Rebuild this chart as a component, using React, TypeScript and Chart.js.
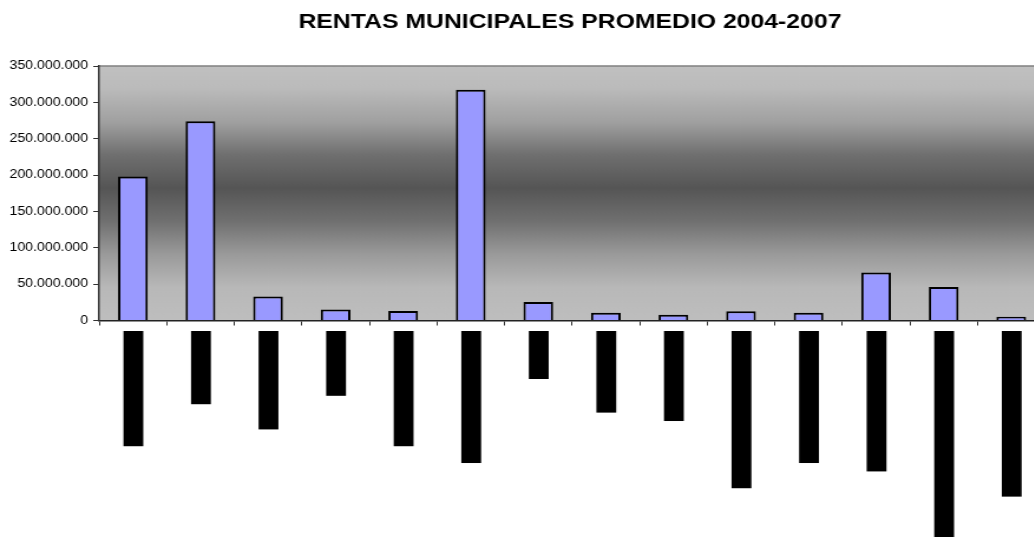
import React, { useEffect, useRef } from "react";
import { Chart, registerables } from "chart.js";

Chart.register(...registerables);

const chartTitle = "RENTAS MUNICIPALES PROMEDIO 2004-2007";

// category labels (illegible in the reference: drawn as solid black labels)
const municipios = [
  "VILLAVICENCIO",
  "RESTREPO",
  "LA MACARENA",
  "CUMARAL",
  "PUERTO GAITAN",
  "SAN JOSE DE URE",
  "URIBE",
  "MAPIRIPAN",
  "SAN MARTIN",
  "SANTA ROSA DEL SUR",
  "HATILLO DE LOBA",
  "PUERTO CONCORDIA",
  "SAN CARLOS DE GUAROA-META",
  "SAN JUAN NEPOMUCENO",
];

const rentasPromedio = [
  198000000, 274000000, 33000000, 15000000, 13000000, 317500000, 25500000,
  10500000, 8000000, 12800000, 10600000, 66000000, 46000000, 5000000,
];

const yMin = 0;
const yMax = 350000000;
const yStep = 50000000;

const STRETCH = 1.18;

function fmt(v: number): string {
  return Math.round(v)
    .toString()
    .replace(/\B(?=(\d{3})+(?!\d))/g, ".");
}

const plotBg = {
  id: "plotBg",
  beforeDraw(chart: any) {
    const { ctx, chartArea: a } = chart;
    if (!a) return;
    const g = ctx.createLinearGradient(0, a.top, 0, a.bottom);
    g.addColorStop(0, "#c0c0c0");
    g.addColorStop(0.087, "#bbbbbb");
    g.addColorStop(0.22, "#a0a0a0");
    g.addColorStop(0.35, "#6f6f6f");
    g.addColorStop(0.48, "#555555");
    g.addColorStop(0.61, "#707070");
    g.addColorStop(0.74, "#9a9a9a");
    g.addColorStop(0.87, "#b8b8b8");
    g.addColorStop(1, "#bebebe");
    ctx.save();
    ctx.fillStyle = g;
    ctx.fillRect(a.left, a.top, a.right - a.left, a.bottom - a.top);
    ctx.strokeStyle = "#808080";
    ctx.lineWidth = 1.5;
    ctx.beginPath();
    ctx.moveTo(a.left, a.top);
    ctx.lineTo(a.right, a.top);
    ctx.lineTo(a.right, a.bottom);
    ctx.stroke();
    ctx.restore();
  },
};

export default function App() {
  const ref = useRef<HTMLCanvasElement | null>(null);

  useEffect(() => {
    if (!ref.current) return;
    const chart = new Chart(ref.current, {
      type: "bar",
      data: {
        labels: municipios,
        datasets: [
          {
            data: rentasPromedio,
            backgroundColor: "#9999ff",
            borderColor: "#000000",
            borderWidth: 2,
            barPercentage: 0.44,
            categoryPercentage: 1,
            yAxisID: "y",
          },
        ],
      },
      options: {
        animation: false,
        responsive: true,
        maintainAspectRatio: false,
        layout: { padding: { left: 0, right: 0, top: 0, bottom: 0 } },
        plugins: {
          legend: { display: false },
          tooltip: { enabled: false },
          title: {
            display: true,
            text: chartTitle,
            color: "#000000",
            font: { family: "Arial, 'Liberation Sans', sans-serif", size: 21, weight: "bold", lineHeight: 1.2 },
            padding: { top: 10, bottom: 30.8 },
          },
        },
        scales: {
          x: {
            offset: true,
            grid: {
              offset: true,
              display: true,
              drawOnChartArea: false,
              drawTicks: true,
              tickLength: 5,
              color: "#333333",
            },
            border: { display: true, color: "#222222", width: 1.5 },
            ticks: {
              autoSkip: false,
              minRotation: 90,
              maxRotation: 90,
              padding: 8.5,
              labelOffset: -8,
              color: "#000000",
              font: { family: "'Liberation Mono', 'DejaVu Sans Mono', monospace", size: 14, lineHeight: 1.2 },
              showLabelBackdrop: true,
              backdropColor: "#000000",
              backdropPadding: { top: 0, bottom: 0, left: 3, right: 3 },
            },
            afterFit: (s: any) => {
              s.height = 216.5;
            },
          },
          y: {
            position: "left",
            min: yMin,
            max: yMax,
            grid: {
              display: true,
              drawOnChartArea: false,
              drawTicks: true,
              tickLength: 5,
              color: "#333333",
            },
            border: { display: true, color: "#333333", width: 1.5 },
            ticks: {
              stepSize: yStep,
              padding: 4.3,
              color: "#000000",
              font: { family: "Arial, 'Liberation Sans', sans-serif", size: 12 },
              callback: (v: any) => fmt(Number(v)),
            },
            afterFit: (s: any) => {
              s.width = 84;
            },
          },
          spacer: {
            type: "linear",
            position: "right",
            display: true,
            grid: { display: false, drawTicks: false },
            border: { display: false },
            ticks: { display: false },
            afterFit: (s: any) => {
              s.width = 80.4;
            },
          },
        },
      },
      plugins: [plotBg],
    });
    return () => chart.destroy();
  }, []);

  return (
    <div
      style={{
        position: "absolute",
        left: 0,
        top: 0,
        width: 1034,
        height: 537,
        overflow: "hidden",
        background: "#ffffff",
      }}
    >
      <div
        style={{
          position: "absolute",
          left: 0,
          top: 0,
          width: 966,
          height: 537,
          transform: `scaleX(${STRETCH})`,
          transformOrigin: "0 0",
        }}
      >
        <canvas ref={ref} />
      </div>
    </div>
  );
}
